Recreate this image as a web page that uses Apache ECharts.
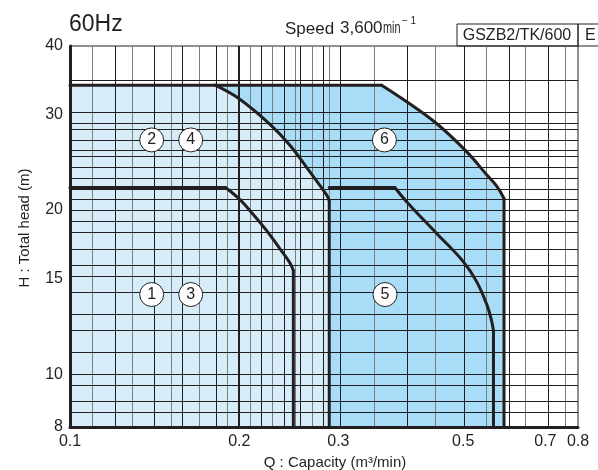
<!DOCTYPE html>
<html>
<head>
<meta charset="utf-8">
<script src="https://cdn.jsdelivr.net/npm/echarts@6/dist/echarts.min.js"></script>
<style>html,body{margin:0;padding:0;background:#fff;}#c{width:598px;height:470px;}</style>
</head>
<body>
<div id="c"></div>
<script>
// ---- axis ranges & tick labels ----
const qMin = 0.1, qMax = 0.8, hMin = 8, hMax = 40;
const xTickValues = [0.1, 0.2, 0.3, 0.5, 0.7, 0.8];
const xTickLabels = ['0.1', '0.2', '0.3', '0.5', '0.7', '0.8'];
const yTickValues = [8, 10, 15, 20, 30, 40];
const yTickLabels = ['8', '10', '15', '20', '30', '40'];

// ---- grid lines (chart paper) ----
const xGridDark = [0.12, 0.14, 0.16, 0.18, 0.22, 0.24, 0.26, 0.28, 0.3, 0.4, 0.5, 0.6, 0.7];
const xGridGray = [0.11, 0.13, 0.15, 0.17, 0.19, 0.21, 0.23, 0.25, 0.27, 0.29, 0.35, 0.45, 0.55, 0.65, 0.75];
const xGridMajor = [0.2];
const yGrid = [8.5, 9, 9.5, 10, 11, 12, 13, 14, 15, 16, 17, 18, 19, 20, 21, 22, 23, 24, 25, 26, 27, 28, 29, 30, 35];

// ---- performance ranges (Q m3/min, H m) ----
// range 1 / 3
const r13TopH = 22;
const r13CurveQ = [0.189, 0.2005, 0.212, 0.224, 0.236, 0.246, 0.2495];
const r13CurveH = [22, 20.9, 19.6, 18.3, 17.0, 16.0, 15.5];
// range 2 / 4
const r24TopH = 33.9;
const r24CurveQ = [0.181, 0.199, 0.227, 0.246, 0.267, 0.286, 0.289];
const r24CurveH = [33.9, 32.1, 28.7, 26.3, 23.5, 21.3, 20.8];
// range 5
const r5StartQ = 0.289;
const r5TopH = 22;
const r5CurveQ = [0.378, 0.397, 0.449, 0.500, 0.528, 0.551, 0.562, 0.566];
const r5CurveH = [22, 20.7, 18.1, 16.1, 14.8, 13.4, 12.5, 12.0];
// range 6
const r6TopH = 33.9;
const r6CurveQ = [0.358, 0.397, 0.449, 0.507, 0.551, 0.574, 0.591];
const r6CurveH = [33.9, 31.6, 28.8, 25.6, 23.2, 22.1, 21.0];

// ---- range markers ----
const markerQ = [0.1397, 0.1639, 0.3622, 0.1397, 0.1639, 0.3631];
const markerH = [26.9, 26.9, 26.9, 14.0, 14.0, 14.0];
const markerLabel = ['2', '4', '6', '1', '3', '5'];

const L = Math.log10;
const P = (q, h) => [L(q), L(h)];
const curve = (qs, hs) => qs.map((q, i) => P(q, hs[i]));

const ink = '#231f20';
const lightBlue = '#d6edf9';
const midBlue = '#a9ddf7';

function lineSeries(data, smooth) {
  return {
    type: 'line', data: data, smooth: smooth ? 0.4 : false, symbol: 'none', z: 6,
    lineStyle: { color: ink, width: 3, cap: 'round', join: 'round' },
    silent: true, animation: false
  };
}
function fillSeries(data, color, z) {
  return {
    type: 'line', data: data, symbol: 'none', z: z,
    lineStyle: { width: 0 },
    areaStyle: { color: color, opacity: 1, origin: 'start' },
    silent: true, animation: false
  };
}

const fill6 = [P(qMin, r6TopH)].concat(curve(r6CurveQ, r6CurveH)).concat([P(r6CurveQ[r6CurveQ.length - 1], hMin)]);
const fill24 = [P(qMin, r24TopH)].concat(curve(r24CurveQ, r24CurveH)).concat([P(r24CurveQ[r24CurveQ.length - 1], hMin)]);

const gridLines = [];
xGridGray.forEach(v => gridLines.push({ xAxis: L(v), lineStyle: { color: '#7d7d7d', width: 1, type: 'solid' } }));
xGridDark.forEach(v => gridLines.push({ xAxis: L(v), lineStyle: { color: '#1e1e1e', width: 1, type: 'solid' } }));
xGridMajor.forEach(v => gridLines.push({ xAxis: L(v), lineStyle: { color: ink, width: 2, type: 'solid' } }));
yGrid.forEach(v => gridLines.push({ yAxis: L(v), lineStyle: { color: '#1e1e1e', width: 1, type: 'solid' } }));

const last = a => a[a.length - 1];

const series = [
  fillSeries(fill6, midBlue, 1),
  fillSeries(fill24, lightBlue, 1.5),
  {
    type: 'line', data: [P(qMin, hMin)], symbol: 'none', lineStyle: { width: 0 }, silent: true, animation: false,
    markLine: { silent: true, symbol: ['none', 'none'], label: { show: false }, animation: false, data: gridLines }
  },
  // range 6 / 2,4 top
  lineSeries([P(qMin, r6TopH), P(r6CurveQ[0], r6TopH)], false),
  lineSeries(curve(r6CurveQ, r6CurveH), true),
  lineSeries([P(last(r6CurveQ), last(r6CurveH)), P(last(r6CurveQ), hMin)], false),
  // range 2/4
  lineSeries(curve(r24CurveQ, r24CurveH), true),
  lineSeries([P(last(r24CurveQ), last(r24CurveH)), P(last(r24CurveQ), hMin)], false),
  // range 1/3
  lineSeries([P(qMin, r13TopH), P(r13CurveQ[0], r13TopH)], false),
  lineSeries(curve(r13CurveQ, r13CurveH), true),
  lineSeries([P(last(r13CurveQ), last(r13CurveH)), P(last(r13CurveQ), hMin)], false),
  // range 5
  lineSeries([P(r5StartQ, r5TopH), P(r5CurveQ[0], r5TopH)], false),
  lineSeries(curve(r5CurveQ, r5CurveH), true),
  lineSeries([P(last(r5CurveQ), last(r5CurveH)), P(last(r5CurveQ), hMin)], false),
  {
    type: 'scatter', z: 8, symbol: 'circle', symbolSize: 24, silent: true, animation: false,
    itemStyle: { color: '#ffffff', borderColor: ink, borderWidth: 1, opacity: 1 },
    label: { show: true, position: 'inside', formatter: p => p.name, fontSize: 16, color: ink, fontFamily: 'Liberation Sans' },
    data: markerQ.map((q, i) => ({ name: markerLabel[i], value: P(q, markerH[i]) }))
  }
];

function fmt(values, labels) {
  return v => {
    for (let i = 0; i < values.length; i++) if (Math.abs(L(values[i]) - v) < 1e-6) return labels[i];
    return '';
  };
}

const chart = echarts.init(document.getElementById('c'), null, { renderer: 'canvas' });
chart.setOption({
  animation: false,
  backgroundColor: '#ffffff',
  textStyle: { fontFamily: 'Liberation Sans', color: ink },
  grid: { left: 70, right: 20, top: 46, bottom: 43, show: true, borderColor: ink, borderWidth: 1, backgroundColor: 'transparent' },
  xAxis: {
    type: 'value', min: L(qMin), max: L(qMax), z: 10,
    axisLine: { show: true, onZero: false, lineStyle: { color: ink, width: 3 } },
    axisTick: { show: false }, splitLine: { show: false },
    axisLabel: { customValues: xTickValues.map(L), formatter: fmt(xTickValues, xTickLabels), fontSize: 16, color: ink, margin: 7, fontFamily: 'Liberation Sans' }
  },
  yAxis: {
    type: 'value', min: L(hMin), max: L(hMax), z: 10,
    axisLine: { show: true, onZero: false, lineStyle: { color: ink, width: 3 } },
    axisTick: { show: false }, splitLine: { show: false },
    axisLabel: { customValues: yTickValues.map(L), formatter: fmt(yTickValues, yTickLabels), fontSize: 16, color: ink, margin: 7, fontFamily: 'Liberation Sans' }
  },
  graphic: [
    { type: 'text', x: 69, y: 25, style: { text: '60Hz', fontSize: 23, fontFamily: 'Liberation Sans', fill: ink, align: 'left', verticalAlign: 'middle' } },
    { type: 'text', x: 285, y: 29, style: { text: 'Speed', fontSize: 17, fontFamily: 'Liberation Sans', fill: ink, align: 'left', verticalAlign: 'middle' } },
    { type: 'text', x: 340, y: 28, style: { text: '3,600', fontSize: 17, fontFamily: 'Liberation Sans', fill: ink, align: 'left', verticalAlign: 'middle' } },
    { type: 'text', x: 383, y: 28.7, scaleX: 0.68, style: { text: 'min', fontSize: 16, fontFamily: 'Liberation Sans', fill: ink, align: 'left', verticalAlign: 'middle' } },
    { type: 'text', x: 402, y: 21, style: { text: '\u2212 1', fontSize: 10, fontFamily: 'Liberation Sans', fill: ink, align: 'left', verticalAlign: 'middle' } },
    { type: 'rect', shape: { x: 457, y: 24, width: 121, height: 22 }, style: { fill: 'none', stroke: ink, lineWidth: 1 } },
    { type: 'rect', shape: { x: 578, y: 24, width: 30, height: 22 }, style: { fill: 'none', stroke: ink, lineWidth: 1 } },
    { type: 'text', x: 517, y: 35.4, style: { text: 'GSZB2/TK/600', fontSize: 16, fontFamily: 'Liberation Sans', fill: ink, align: 'center', verticalAlign: 'middle' } },
    { type: 'text', x: 585, y: 35.4, style: { text: 'E', fontSize: 16, fontFamily: 'Liberation Sans', fill: ink, align: 'left', verticalAlign: 'middle' } },
    { type: 'text', x: 335, y: 462.5, style: { text: 'Q : Capacity (m\u00b3/min)', fontSize: 15, fontFamily: 'Liberation Sans', fill: ink, align: 'center', verticalAlign: 'middle' } },
    { type: 'text', x: 25, y: 228, rotation: Math.PI / 2, style: { text: 'H : Total head (m)', fontSize: 15, fontFamily: 'Liberation Sans', fill: ink, align: 'center', verticalAlign: 'middle' } }
  ],
  series: series
});
</script>
</body>
</html>
